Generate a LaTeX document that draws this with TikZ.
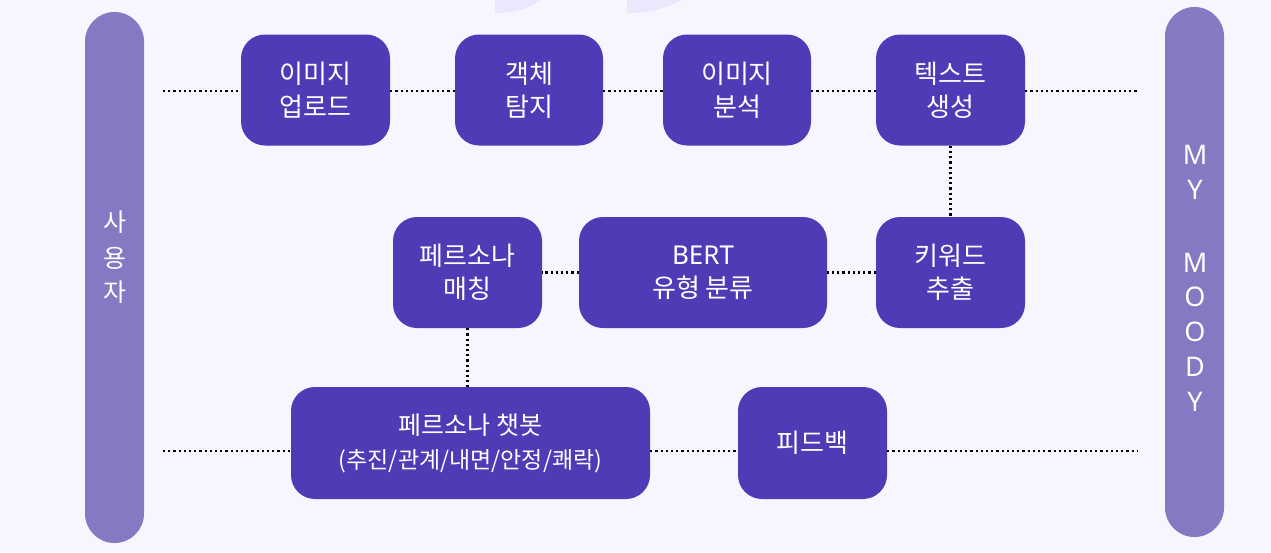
\documentclass[tikz,border=0pt]{standalone}
\usepackage{fontspec}
\newfontfamily\kr{Noto Sans CJK KR}
\begin{document}
\begin{tikzpicture}[x=1pt,y=-1pt,
  box/.style={fill=boxc, rounded corners=24pt, text=white, align=center,
    font=\kr\fontsize{26}{33}\selectfont, inner sep=0pt},
  bar/.style={fill=barc, rounded corners=29.5pt},
  dots/.style={draw=black, line width=2.2pt, dash pattern=on 2.2pt off 3pt},
  lbl/.style={text=white, font=\kr\fontsize{25}{25}\selectfont, inner sep=0pt}]
\definecolor{bg}{HTML}{F7F6FE}
\definecolor{boxc}{HTML}{4F3BB5}
\definecolor{barc}{HTML}{8479C3}
\definecolor{faint}{HTML}{EAE8FC}
\useasboundingbox (0,0) rectangle (1271,552);
\fill[bg] (0,0) rectangle (1271,552);
% faint cut-off shapes at the top
\fill[faint] (495,0) -- (495,13) .. controls (515,13) and (530,8) .. (541,0) -- cycle;
\fill[faint] (627,0) -- (627,13) .. controls (650,13) and (668,8) .. (681,0) -- cycle;
% side bars
\fill[bar] (85,12) rectangle (144,543);
\fill[bar] (1165,7) rectangle (1224,537);
\node[lbl] (s1) at (115,222) {사};
\node[lbl] (s2) at (115,258) {용};
\node[lbl] (s3) at (115,292) {자};
\foreach \t/\yy in {M/155,Y/190,M/263,O/297,O/332,D/367,Y/402}{
  \node[lbl, font=\fontspec{Noto Sans}\fontsize{27}{27}\selectfont] at (1195,\yy) {\t};
}
% coordinates for free ends of lines
\coordinate (l1) at (163,91);
\coordinate (r1) at (1137,91);
\coordinate (l3) at (163,451);
\coordinate (r3) at (1137,451);
% row 1
\node[box, minimum width=149pt, minimum height=111pt] (up) at (315.5,90) {이미지\\업로드};
\node[box, minimum width=148pt, minimum height=111pt] (det) at (529,90) {객체\\탐지};
\node[box, minimum width=148pt, minimum height=111pt] (ana) at (737,90) {이미지\\분석};
\node[box, minimum width=149pt, minimum height=111pt] (gen) at (950.5,90) {텍스트\\생성};
% row 2
\node[box, minimum width=149pt, minimum height=111pt] (pm) at (467.5,272.5) {페르소나\\매칭};
\node[box, minimum width=248pt, minimum height=111pt] (bert) at (703,272.5) {\fontspec{Noto Sans}BERT\\\kr 유형 분류};
\node[box, minimum width=149pt, minimum height=111pt] (kw) at (950.5,272.5) {키워드\\추출};
% row 3
\node[box, font=\kr\fontsize{25}{34}\selectfont, minimum width=359pt, minimum height=112pt] (chat) at (470.5,443) {페르소나 챗봇\\\fontsize{23}{34}\selectfont(추진/관계/내면/안정/쾌락)};
\node[box, minimum width=149pt, minimum height=112pt] (fb) at (812.5,443) {피드백};
% connectors
\draw[dots] (l1) -- (up.west |- l1);
\draw[dots] (up.east |- l1) -- (det.west |- l1);
\draw[dots] (det.east |- l1) -- (ana.west |- l1);
\draw[dots] (ana.east |- l1) -- (gen.west |- l1);
\draw[dots] (gen.east |- r1) -- (r1);
\draw[dots] (gen.south) -- (kw.north);
\draw[dots] (kw.west) -- (bert.east);
\draw[dots] (bert.west) -- (pm.east);
\draw[dots] (pm.south) -- (pm.south |- chat.north);
\draw[dots] (l3) -- (chat.west |- l3);
\draw[dots] (chat.east |- l3) -- (fb.west |- l3);
\draw[dots] (fb.east |- r3) -- (r3);
\end{tikzpicture}
\end{document}
